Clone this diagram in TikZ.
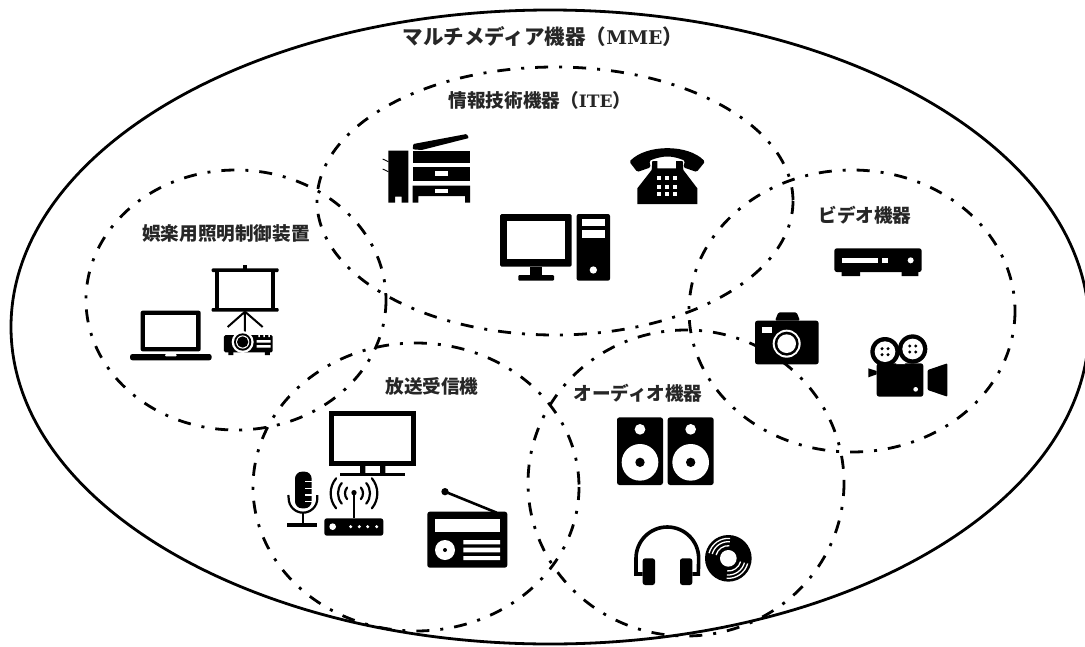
\documentclass[tikz,border=0pt]{standalone}
\usepackage{fontspec}
\newfontfamily\cjk{Noto Sans CJK JP}
\newfontfamily\latf[Scale=0.92]{DejaVu Serif}
\newcommand{\lat}[1]{{\latf\bfseries #1}}
\tikzset{
  outerline/.style={draw=black,line width=2.8pt},
  dd/.style={draw=black,line width=2.8pt,dash pattern=on 13pt off 11pt on 3pt off 11pt},
  bk/.style={fill=black,draw=none},
  wh/.style={fill=white,draw=none},
  ln/.style={draw=black,line width=2.2pt,fill=none},
  lbl/.style={inner sep=0pt,font=\cjk\bfseries\fontsize{18.6}{20}\selectfont,text=black!85},
  zoomA/.style={shift={#1},x=0.33333pt,y=-0.33333pt}
}
\begin{document}
\begin{tikzpicture}[x=1pt,y=-1pt]
\useasboundingbox (0,0) rectangle (1085,646);
\fill[white] (0,0) rectangle (1085,646);
\clip (0,0) rectangle (1085,646);
% ellipses
\draw[outerline] (550,327) ellipse [x radius=539,y radius=317];
\draw[dd] (555,201) ellipse [x radius=238,y radius=134];
\draw[dd] (236,300) ellipse [x radius=150,y radius=130];
\draw[dd] (852,311) ellipse [x radius=163,y radius=141];
\draw[dd] (416,487) ellipse [x radius=163,y radius=144];
\draw[dd] (686,483) ellipse [x radius=158,y radius=153];
% labels
\node[lbl,font=\cjk\bfseries\fontsize{20.5}{22}\selectfont] (mme) at (543,37) {マルチメディア機器（\lat{MME}）};
\node[lbl] (ite) at (540,100) {情報技術機器（\lat{ITE}）};
\node[lbl] (light) at (226,233) {娯楽用照明制御装置};
\node[lbl] (bc) at (432,386) {放送受信機};
\node[lbl] (audio) at (638,393) {オーディオ機器};
\node[lbl] (video) at (865,215) {ビデオ機器};

% ---- ITE icons
\begin{scope}[zoomA={(300,60)}]
% copier
\fill[bk] (265,272) -- (325,272) -- (325,428) -- (305,428) -- (305,410) -- (285,410) -- (285,428) -- (265,428) -- cycle;
\draw[black,line width=0.9pt] (265,305) -- (248,297) (265,335) -- (248,327);
\fill[bk,rounded corners=1pt] (338,268) -- (340,252) -- (500,222) -- (507,234) -- (365,270) -- cycle;
\fill[bk] (338,272) rectangle (510,308);
\fill[bk] (338,322) rectangle (510,362);
\fill[wh] (405,333) rectangle (445,347);
\fill[bk] (338,377) -- (510,377) -- (510,428) -- (495,428) -- (495,408) -- (355,408) -- (355,428) -- (338,428) -- cycle;
\fill[wh] (405,387) rectangle (445,400);
% phone
\fill[bk,rounded corners=1.5pt] (988,305) .. controls (1040,252) and (1165,252) .. (1215,305) -- (1190,336) -- (1150,322) -- (1155,302) .. controls (1115,286) and (1090,286) .. (1048,302) -- (1052,322) -- (1012,336) -- cycle;
\fill[bk] (1057,303) -- (1072,303) -- (1072,325) -- (1128,325) -- (1128,303) -- (1148,303) -- (1150,330) -- (1192,385) -- (1192,432) -- (1012,432) -- (1012,385) -- (1055,330) -- cycle;
\foreach \px in {1078,1102,1126} \foreach \py in {355,380,403}
  \fill[wh] (\px-6,\py-6) rectangle (\px+6,\py+6);
% computer
\fill[bk,rounded corners=1.5pt] (600,462) rectangle (815,620);
\fill[wh] (622,482) rectangle (795,598);
\fill[bk] (690,620) rectangle (725,645);
\fill[bk,rounded corners=1pt] (655,645) rectangle (762,662);
\fill[bk,rounded corners=2pt] (830,462) rectangle (930,662);
\fill[wh] (845,477) rectangle (916,498);
\fill[wh] (845,510) rectangle (916,535);
\fill[wh] (880,630) circle [radius=11];
\end{scope}

% ---- lighting icons
\begin{scope}[zoomA={(80,200)}]
\fill[bk] (490,195) rectangle (500,206);
\fill[bk,rounded corners=1pt] (395,205) rectangle (596,216);
\fill[bk] (405,216) rectangle (585,325);
\fill[wh] (418,216) rectangle (572,325);
\fill[bk,rounded corners=1pt] (395,324) rectangle (596,335);
\draw[black,line width=2pt] (495,335) -- (443,381) (495,335) -- (548,381) (495,335) -- (495,402);
\fill[bk,rounded corners=1.5pt] (432,405) rectangle (578,457);
\fill[bk] (445,455) rectangle (460,465) (555,455) rectangle (570,465);
\fill[wh] (488,426) circle [radius=33];
\fill[bk] (488,426) circle [radius=26];
\fill[wh] (488,426) circle [radius=20];
\fill[bk] (488,426) circle [radius=17];
\fill[wh] (530,420) rectangle (572,428) (530,435) rectangle (572,443);
\fill[wh] (535,401) rectangle (540,411) (550,401) rectangle (555,411) (565,401) rectangle (570,411);
% laptop
\fill[bk,rounded corners=2pt] (182,332) rectangle (362,454);
\fill[wh] (196,345) rectangle (349,440);
\fill[bk,rounded corners=2.5pt] (150,462) rectangle (395,481);
\fill[wh,rounded corners=1pt] (255,462) rectangle (290,469);
\end{scope}

% ---- broadcast icons
\begin{scope}[zoomA={(260,370)}]
\fill[bk] (207,123) rectangle (468,288);
\fill[wh] (222,138) rectangle (453,273);
\fill[bk] (300,288) rectangle (316,310) (360,288) rectangle (376,310);
\fill[bk] (240,308) rectangle (435,318);
% mic
\fill[bk,rounded corners=7pt] (105,305) rectangle (155,415);
\foreach \py in {335,355,375,395} \fill[wh] (135,\py-2) rectangle (156,\py+2);
\draw[ln] (172,375) -- (172,385) arc [start angle=0,end angle=180,radius=43] -- (85,375);
\draw[ln] (128,428) -- (128,465);
\fill[bk] (82,460) rectangle (172,471);
% router
\fill[bk,rounded corners=2.5pt] (193,445) rectangle (370,497);
\fill[wh] (218,470) circle [radius=10];
\foreach \px in {272,298,323,350} \fill[wh] (\px,470) circle [radius=5];
\draw[ln] (282,368) -- (282,445);
\fill[bk] (282,368) circle [radius=8];
\foreach \rr in {27,48,70}{
  \draw[ln,line cap=round] (282,370) ++(-40:\rr) arc [start angle=-40,end angle=40,radius=\rr];
  \draw[ln,line cap=round] (282,370) ++(140:\rr) arc [start angle=140,end angle=220,radius=\rr];
}
% radio
\draw[black,line width=2.6pt] (555,365) -- (710,428);
\fill[bk] (555,365) circle [radius=11];
\fill[bk,rounded corners=2.5pt] (502,425) rectangle (742,593);
\fill[wh] (525,448) rectangle (720,485);
\fill[wh] (555,540) circle [radius=30];
\fill[bk] (555,540) circle [radius=6];
\fill[wh] (610,510) rectangle (720,523) (610,533) rectangle (720,547) (610,558) rectangle (720,570);
\end{scope}

% ---- audio icons
\begin{scope}[zoomA={(560,370)}]
\foreach \cx in {240,392}{
  \fill[bk,rounded corners=2.5pt] (\cx-69,142) rectangle (\cx+69,345);
  \fill[wh] (\cx,178) circle [radius=16];
  \fill[wh] (\cx,277) circle [radius=55];
  \fill[bk] (\cx,277) circle [radius=14];
}
\draw[black,line width=3.6pt] (248,612) -- (228,612) -- (228,565) arc [start angle=180,end angle=360,radius=94] -- (415,612) -- (397,612);
\fill[bk,rounded corners=2.5pt] (248,565) rectangle (285,645);
\fill[bk,rounded corners=2.5pt] (360,565) rectangle (397,645);
\fill[bk] (505,565) circle [radius=70];
\foreach \rr in {38,50,60}{
  \draw[white,line width=1.3pt] (505,565) ++(195:\rr) arc [start angle=195,end angle=275,radius=\rr];
  \draw[white,line width=1.3pt] (505,565) ++(15:\rr) arc [start angle=15,end angle=95,radius=\rr];
}
\fill[wh] (505,565) circle [radius=25];
\end{scope}

% ---- video icons
\begin{scope}[zoomA={(740,190)}]
\fill[bk,rounded corners=2.5pt] (283,175) rectangle (545,246);
\fill[bk] (305,245) rectangle (360,258) (485,245) rectangle (535,258);
\fill[wh] (307,203) rectangle (413,220);
\fill[wh] (425,203) rectangle (445,220);
\fill[wh] (512,211) circle [radius=9];
% camera
\fill[bk,rounded corners=1.5pt] (105,392) -- (115,367) -- (170,367) -- (180,392) -- cycle;
\fill[bk,rounded corners=2.5pt] (45,392) rectangle (236,523);
\fill[wh] (65,410) rectangle (95,428);
\fill[wh] (140,461) circle [radius=42];
\fill[bk] (140,461) circle [radius=36];
\fill[wh] (140,461) circle [radius=28];
% movie camera
\foreach \cx/\cy in {435/485,518/477}{
  \fill[bk] (\cx,\cy) circle [radius=44];
  \fill[wh] (\cx,\cy) circle [radius=31];
  \foreach \dx/\dy in {-9/-9,9/-9,-9/9,9/9} \fill[bk] (\cx+\dx,\cy+\dy) circle [radius=5];
}
\fill[bk,rounded corners=2.5pt] (410,520) rectangle (550,620);
\fill[wh] (468,522) -- (482,505) -- (496,522) -- cycle;
\fill[wh] (527,598) circle [radius=7];
\fill[bk] (385,535) -- (410,543) -- (410,553) -- (385,562) -- cycle;
\fill[bk,rounded corners=1pt] (563,540) -- (622,520) -- (622,620) -- (563,600) -- cycle;
\end{scope}
\end{tikzpicture}
\end{document}
